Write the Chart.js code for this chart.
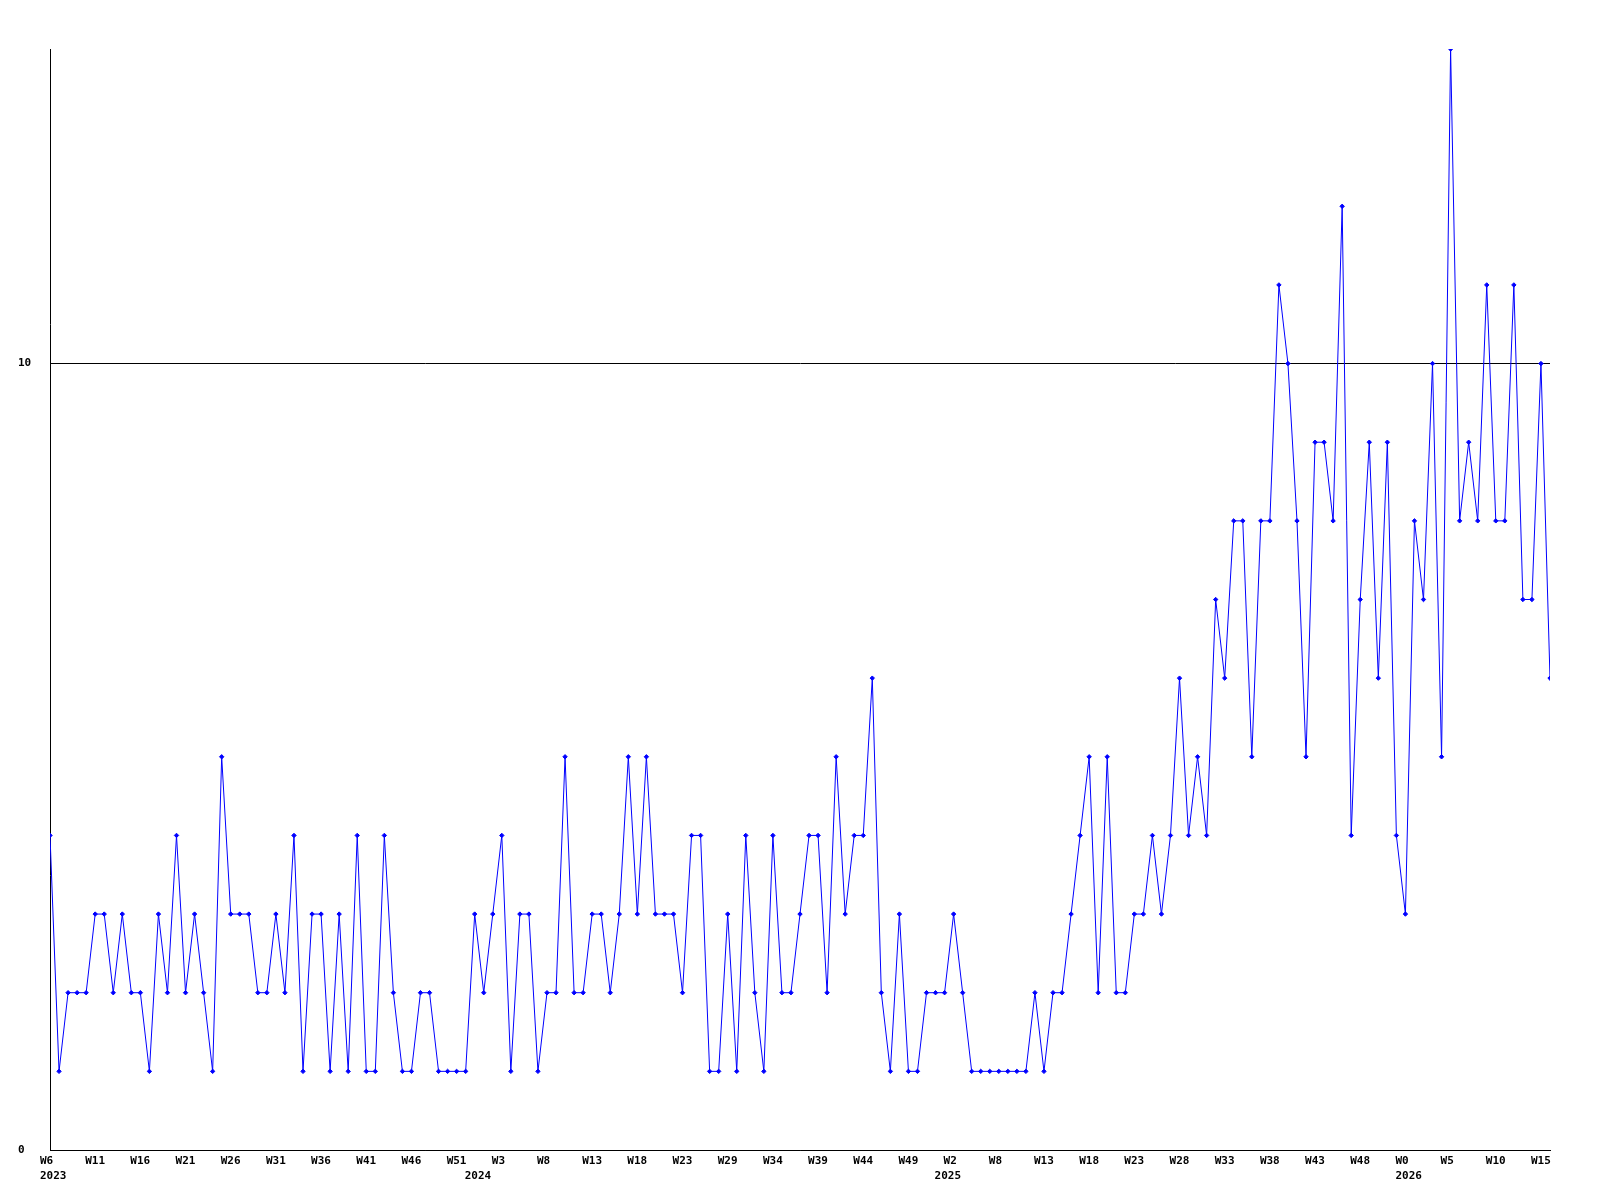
<!DOCTYPE html>
<html>
<head>
<meta charset="utf-8">
<script src="https://cdn.jsdelivr.net/npm/chart.js@4/dist/chart.umd.min.js"></script>
<style>
  html, body { margin: 0; padding: 0; background: #fff; }
  canvas { display: block; }
</style>
</head>
<body>
<canvas id="weekChart" width="1600" height="1200"></canvas>
<script>
// weekly values, W6 2023 .. W16 2026
const counts = [
  4, 1, 2, 2, 2, 3, 3, 2, 3, 2,
  2, 1, 3, 2, 4, 2, 3, 2, 1, 5,
  3, 3, 3, 2, 2, 3, 2, 4, 1, 3,
  3, 1, 3, 1, 4, 1, 1, 4, 2, 1,
  1, 2, 2, 1, 1, 1, 1, 3, 2, 3,
  4, 1, 3, 3, 1, 2, 2, 5, 2, 2,
  3, 3, 2, 3, 5, 3, 5, 3, 3, 3,
  2, 4, 4, 1, 1, 3, 1, 4, 2, 1,
  4, 2, 2, 3, 4, 4, 2, 5, 3, 4,
  4, 6, 2, 1, 3, 1, 1, 2, 2, 2,
  3, 2, 1, 1, 1, 1, 1, 1, 1, 2,
  1, 2, 2, 3, 4, 5, 2, 5, 2, 2,
  3, 3, 4, 3, 4, 6, 4, 5, 4, 7,
  6, 8, 8, 5, 8, 8, 11, 10, 8, 5,
  9, 9, 8, 12, 4, 7, 9, 6, 9, 4,
  3, 8, 7, 10, 5, 14, 8, 9, 8, 11,
  8, 8, 11, 7, 7, 10, 6
];

// one label every 5 weeks
const weekTicks = [
  'W6', 'W11', 'W16', 'W21', 'W26', 'W31', 'W36', 'W41', 'W46', 'W51',
  'W3', 'W8', 'W13', 'W18', 'W23', 'W29', 'W34', 'W39', 'W44', 'W49',
  'W2', 'W8', 'W13', 'W18', 'W23', 'W28', 'W33', 'W38', 'W43', 'W48',
  'W0', 'W5', 'W10', 'W15'
];
const tickStep = 5;

// year labels and the week index where each starts
const years = ['2023', '2024', '2025', '2026'];
const yearStart = [0, 47, 99, 150];

const yTicks = [0, 10];
const yMax = 14;

const points = counts.map((v, i) => ({ x: i, y: v }));

const axisFont = { family: 'DejaVu Sans Mono', size: 11, weight: 'bold', lineHeight: 1.4 };

new Chart(document.getElementById('weekChart'), {
  type: 'line',
  data: {
    datasets: [{
      data: points,
      borderColor: '#0000ff',
      backgroundColor: '#0000ff',
      borderWidth: 1,
      tension: 0,
      pointStyle: 'rectRot',
      pointRadius: 2.2,
      pointBorderWidth: 1,
      pointHoverRadius: 2.2,
      fill: false
    }]
  },
  options: {
    responsive: false,
    animation: false,
    events: [],
    layout: { padding: { left: 18, top: 49, right: 50, bottom: 0 } },
    plugins: {
      legend: { display: false },
      tooltip: { enabled: false }
    },
    scales: {
      x: {
        type: 'linear',
        min: 0,
        max: counts.length - 1,
        afterBuildTicks: (scale) => {
          const vals = weekTicks.map((t, i) => i * tickStep);
          yearStart.forEach(v => { if (!vals.includes(v)) vals.push(v); });
          vals.sort((a, b) => a - b);
          scale.ticks = vals.map(v => ({ value: v }));
        },
        afterFit: (scale) => { scale.height = 50; },
        grid: { display: false, drawTicks: false },
        border: { display: true, color: '#000', width: 1 },
        ticks: {
          autoSkip: false,
          maxRotation: 0,
          align: 'start',
          labelOffset: -10,
          padding: 3,
          color: '#000',
          font: axisFont,
          callback: (value) => {
            const w = value % tickStep === 0 ? (weekTicks[value / tickStep] || '') : '';
            const y = yearStart.indexOf(value);
            return y >= 0 ? [w, years[y]] : w;
          }
        }
      },
      y: {
        min: 0,
        max: yMax,
        afterBuildTicks: (scale) => {
          scale.ticks = yTicks.map(v => ({ value: v }));
        },
        afterFit: (scale) => { scale.width = 32; },
        grid: { color: '#000', lineWidth: 1, drawTicks: false },
        border: { display: true, color: '#000', width: 1 },
        ticks: {
          crossAlign: 'far',
          padding: 3,
          color: '#000',
          font: axisFont
        }
      }
    }
  }
});
</script>
</body>
</html>
